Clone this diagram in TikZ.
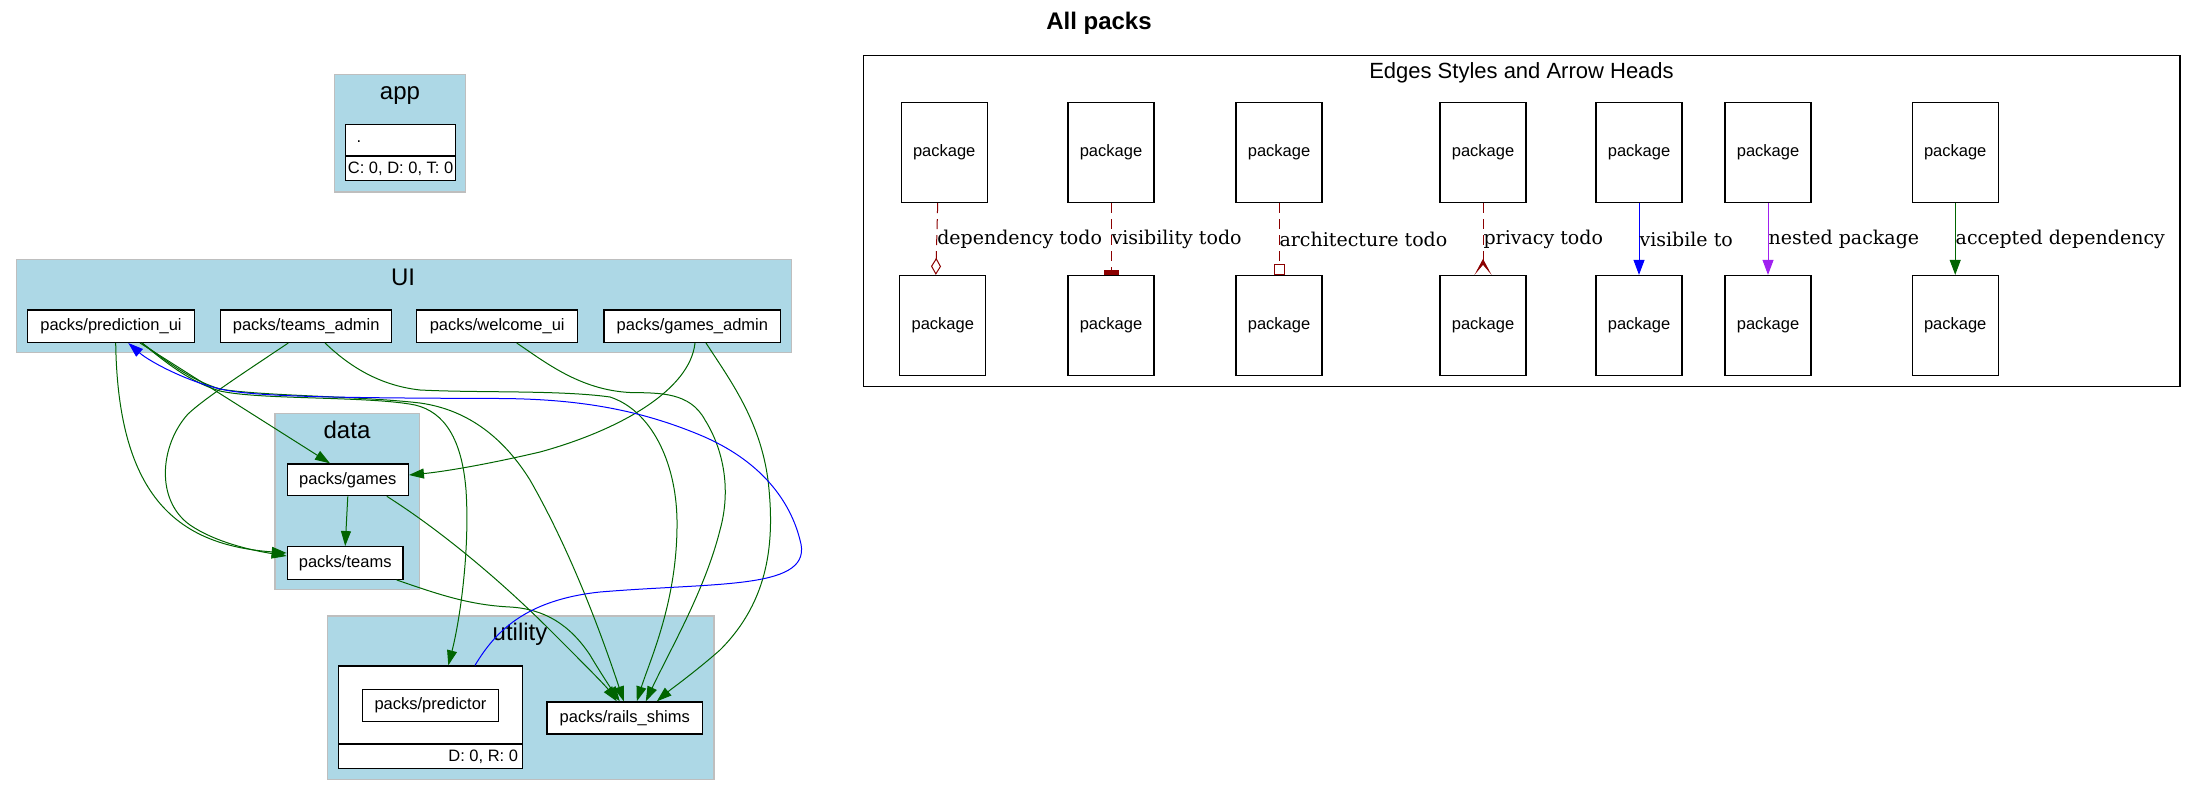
\documentclass[tikz,border=0pt]{standalone}
\usepackage{fontspec}
\setmainfont{Liberation Sans}
\newfontfamily\labelfont{DejaVu Serif}
\usetikzlibrary{arrows.meta,calc}
\definecolor{lblue}{HTML}{ADD8E6}
\definecolor{dgreen}{HTML}{006400}
\definecolor{dred}{HTML}{8B0000}
\definecolor{vpurple}{HTML}{A020F0}
\definecolor{cborder}{HTML}{BEBEBE}
\begin{document}
\begin{tikzpicture}[x=1pt,y=-1pt,
  pkg/.style={draw=black, line width=1.3pt, fill=white, rectangle, inner sep=0pt,
    font=\fontsize{16.5}{19}\selectfont},
  plain/.style={inner sep=0pt, font=\fontsize{16.5}{19}\selectfont},
  legbox/.style={pkg, minimum width=86pt, minimum height=100pt},
  cluster/.style={fill=lblue, draw=cborder, line width=1.5pt},
  ctitle/.style={font=\fontsize{24}{28}\selectfont, inner sep=0pt, anchor=base},
  dep/.style={draw=dgreen, line width=1pt, -{Triangle[length=15pt,width=10pt]}},
  visedge/.style={draw=blue, line width=1pt, -{Triangle[length=15pt,width=10pt]}},
  todo/.style={draw=dred, line width=1pt, dash pattern=on 10pt off 6pt},
  elabel/.style={anchor=west, inner sep=0pt, text=black, font=\labelfont\fontsize{19}{22}\selectfont}
]
\useasboundingbox (0,0) rectangle (2197,797);

% title
\node[font=\bfseries\fontsize{24}{28}\selectfont, inner sep=0pt, anchor=base] (title) at (1099,29.3) {All packs};

% clusters
\draw[cluster] (334.7,74.7) rectangle (465.5,192);
\node[ctitle] (tapp) at (400,99.3) {app};
\draw[cluster] (16.7,259.3) rectangle (791.7,352.7);
\node[ctitle] (tui) at (403,285) {UI};
\draw[cluster] (275,413.3) rectangle (419.3,589.3);
\node[ctitle] (tdata) at (347,438.3) {data};
\draw[cluster] (327.7,616) rectangle (714,779.3);
\node[ctitle] (tutil) at (520,640.7) {utility};

% app record
\node[pkg, minimum width=109.8pt, minimum height=56pt] (app) at (400.6,152.7) {};
\draw[line width=1.3pt] ($(app.north west)+(0,32)$) -- ($(app.north east)+(0,32)$);
\node[plain] (appdot) at (359,141.7) {.};
\node[plain] (appstats) at (400.6,168.7) {C: 0, D: 0, T: 0};

% UI nodes
\node[pkg, minimum width=166.6pt, minimum height=32.3pt] (pui) at (111,326.2) {packs/prediction\_ui};
\node[pkg, minimum width=171pt, minimum height=32.3pt] (tad) at (306.2,326.2) {packs/teams\_admin};
\node[pkg, minimum width=161pt, minimum height=32.3pt] (wui) at (497.2,326.2) {packs/welcome\_ui};
\node[pkg, minimum width=176.8pt, minimum height=32.3pt] (gad) at (692.4,326.2) {packs/games\_admin};

% data nodes
\node[pkg, minimum width=121pt, minimum height=31.7pt] (games) at (347.8,479.8) {packs/games};
\node[pkg, minimum width=115.7pt, minimum height=32.6pt] (teams) at (345.2,563) {packs/teams};

% utility nodes
\node[pkg, minimum width=183.6pt, minimum height=102.7pt] (pred) at (430.5,717.35) {};
\draw[line width=1.3pt] ($(pred.north west)+(0,78.7)$) -- ($(pred.north east)+(0,78.7)$);
\node[pkg, minimum width=136.4pt, minimum height=32.4pt] (predin) at (430.5,705.5) {packs/predictor};
\node[plain, anchor=east] (predstats) at (518.3,756.5) {D: 0, R: 0};
\node[pkg, minimum width=155.7pt, minimum height=32pt] (rails) at (624.8,718) {packs/rails\_shims};

% edges
\draw[dep] ($(pui.south)+(4.7,0)$) .. controls (118,500) and (180,545) .. ($(teams.west)+(0,-10)$);
\draw[dep] ($(tad.south)+(-17.9,0)$) .. controls (245,372) and (205,398) .. (188,414)
  .. controls (160,445) and (155,500) .. (190,525) .. controls (215,542) and (250,550) .. ($(teams.west)+(0,-7)$);
\draw[dep] ($(pui.south)+(29,0)$) -- ($(games.north)+(-17.8,0)$);
\draw[dep] ($(pui.south)+(31,0)$) .. controls (165,362) and (190,382) .. (220,391)
  .. controls (260,400) and (370,396) .. (415,405) .. controls (445,412) and (462,440) .. (466,490)
  .. controls (470,550) and (460,620) .. ($(pred.north)+(17.8,0)$);
\draw[dep] ($(pui.south)+(31,0)$) .. controls (165,360) and (190,380) .. (220,389)
  .. controls (260,396) and (360,396) .. (420,403) .. controls (470,410) and (505,440) .. (530,480)
  .. controls (570,550) and (600,630) .. ($(rails.north)+(-1,0)$);
\draw[dep] ($(tad.south)+(18.8,0)$) .. controls (345,362) and (375,385) .. (420,390)
  .. controls (480,393) and (560,390) .. (610,397) .. controls (650,410) and (676,460) .. (677,520)
  .. controls (678,600) and (650,660) .. ($(rails.north)+(12,0)$);
\draw[dep] ($(wui.south)+(19.5,0)$) .. controls (545,362) and (580,390) .. (630,392.5)
  .. controls (660,393) and (690,392) .. (705,420) .. controls (722,447) and (732,487) .. (720,530)
  .. controls (705,590) and (670,650) .. ($(rails.north)+(21,0)$);
\draw[dep] ($(gad.south)+(2.6,0)$) .. controls (690,390) and (620,430) .. (540,452)
  .. controls (480,466) and (440,472) .. ($(games.east)+(0,-4.8)$);
\draw[dep] ($(gad.south)+(13.6,0)$) .. controls (730,380) and (760,420) .. (768,480)
  .. controls (775,540) and (770,600) .. (720,650) .. controls (695,672) and (670,690) .. ($(rails.north)+(32,0)$);
\draw[dep] (games.south) -- (teams.north);
\draw[dep] ($(games.south)+(39,0)$) .. controls (440,530) and (500,580) .. (550,630)
  .. controls (580,660) and (605,685) .. ($(rails.north)+(-8,0)$);
\draw[dep] ($(teams.south)+(51.5,0)$) .. controls (440,595) and (470,605) .. (510,607)
  .. controls (545,609) and (570,625) .. (590,655) .. controls (600,672) and (612,690) .. ($(rails.north)+(-5,0)$);
\draw[visedge] ($(pred.north)+(44.5,0)$) .. controls (495,632) and (525,600) .. (600,592)
  .. controls (720,582) and (815,590) .. (800,540) .. controls (790,500) and (760,460) .. (700,435)
  .. controls (640,410) and (580,399) .. (500,398.5) .. controls (350,398) and (260,397) .. (225,390)
  .. controls (190,383) and (150,362) .. ($(pui.south)+(17.3,0)$);

% legend
\draw[line width=1.3pt] (863.4,55.3) rectangle (2180,386.7);
\node[font=\fontsize{22}{26}\selectfont, inner sep=0pt, anchor=base] (legtitle) at (1521.5,79) {Edges Styles and Arrow Heads};

\node[legbox] (t1) at (944.2,152.5) {package};
\node[legbox] (b1) at (942.8,325.5) {package};
\node[legbox] (t2) at (1111,152.5) {package};
\node[legbox] (b2) at (1111,325.5) {package};
\node[legbox] (t3) at (1279,152.5) {package};
\node[legbox] (b3) at (1279,325.5) {package};
\node[legbox] (t4) at (1483,152.5) {package};
\node[legbox] (b4) at (1483,325.5) {package};
\node[legbox] (t5) at (1639,152.5) {package};
\node[legbox] (b5) at (1639,325.5) {package};
\node[legbox] (t6) at (1768,152.5) {package};
\node[legbox] (b6) at (1768,325.5) {package};
\node[legbox] (t7) at (1955.2,152.5) {package};
\node[legbox] (b7) at (1955.2,325.5) {package};

\draw[todo, -{Diamond[open, length=17pt, width=10pt]}] ($(t1.south)+(-6.5,0)$) -- node[elabel] {dependency todo} ($(b1.north)+(-7,0)$);
\draw[todo, -{Rectangle[length=5pt, width=15pt]}] (t2.south) -- node[elabel] {visibility todo} (b2.north);
\draw[todo, -{Rectangle[open, length=11pt, width=11pt]}] (t3.south) -- node[elabel] {architecture todo} (b3.north);
\draw[todo, -{Stealth[reversed, length=16pt, width=17pt, inset=10pt, line width=1pt]}] (t4.south) -- node[elabel] {privacy todo} (b4.north);
\draw[draw=blue, line width=1pt, -{Triangle[length=15pt,width=11pt]}] (t5.south) -- node[elabel] {visibile to} (b5.north);
\draw[draw=vpurple, line width=1pt, -{Triangle[length=15pt,width=11pt]}] (t6.south) -- node[elabel] {nested package} (b6.north);
\draw[draw=dgreen, line width=1pt, -{Triangle[length=15pt,width=11pt]}] (t7.south) -- node[elabel] {accepted dependency} (b7.north);
\end{tikzpicture}
\end{document}
